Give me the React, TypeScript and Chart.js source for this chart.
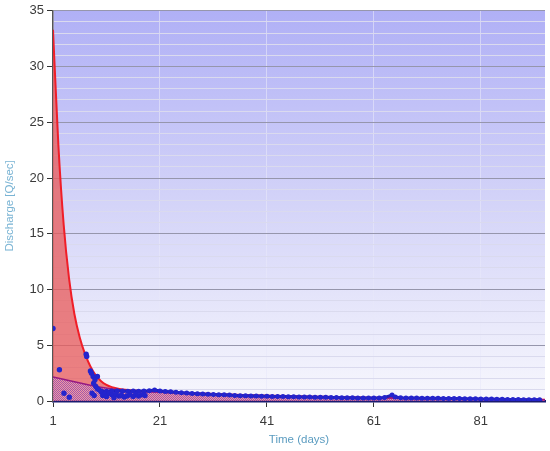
import React, { useEffect, useRef } from "react";
import { Chart, registerables } from "chart.js";

Chart.register(...registerables);

// Fitted discharge curve (red)
const redDays = [1, 2, 3, 4, 5, 6, 7, 8, 9, 10, 11, 12, 13, 14, 15, 16, 18, 20, 25, 30, 35, 40, 45, 50, 55, 60, 65, 70, 75, 80, 85, 93];
const redValues = [33.3, 23.0, 15.8, 11.0, 7.8, 5.7, 4.2, 3.1, 2.3, 1.78, 1.44, 1.24, 1.12, 1.04, 0.98, 0.94, 0.88, 0.84, 0.74, 0.64, 0.56, 0.5, 0.44, 0.39, 0.34, 0.3, 0.26, 0.23, 0.2, 0.17, 0.15, 0.12];

// Baseflow (purple)
const baseDays = [1, 5, 9, 13, 16, 20, 25, 30, 40, 50, 60, 70, 80, 93];
const baseValues = [2.15, 1.72, 1.3, 1.02, 0.9, 0.8, 0.7, 0.61, 0.47, 0.37, 0.29, 0.22, 0.16, 0.11];

// Observed discharge, early scattered readings
const obsEarlyDays = [1, 2.2, 3.05, 4.05, 7.2, 7.3, 8.0, 8.2, 8.5, 9.3, 8.85, 8.6, 9.0, 9.3, 8.3, 8.7, 9.6, 10.0, 10.3, 10.7, 11.0, 11.5, 12.0, 12.4, 12.8, 13.3, 13.8, 14.3, 14.8, 15.4, 16.0, 16.5, 17.0, 17.6, 18.2];
const obsEarlyValues = [6.5, 2.8, 0.7, 0.33, 4.2, 4.0, 2.7, 2.5, 2.2, 2.2, 1.9, 1.6, 1.3, 1.1, 0.7, 0.5, 1.0, 0.8, 0.5, 0.6, 0.4, 0.7, 0.55, 0.3, 0.6, 0.45, 0.5, 0.35, 0.45, 0.55, 0.4, 0.6, 0.45, 0.55, 0.5];

// Observed discharge, daily readings
const obsDays = [10, 11, 12, 13, 14, 15, 16, 17, 18, 19, 20, 21, 22, 23, 24, 25, 26, 27, 28, 29, 30, 31, 32, 33, 34, 35, 36, 37, 38, 39, 40, 41, 42, 43, 44, 45, 46, 47, 48, 49, 50, 51, 52, 53, 54, 55, 56, 57, 58, 59, 60, 61, 62, 63, 64.4, 65, 66, 67, 68, 69, 70, 71, 72, 73, 74, 75, 76, 77, 78, 79, 80, 81, 82, 83, 84, 85, 86, 87, 88, 89, 90, 91, 92];
const obsValues = [0.9, 0.88, 0.9, 0.92, 0.9, 0.88, 0.9, 0.88, 0.9, 0.92, 0.98, 0.9, 0.86, 0.82, 0.78, 0.75, 0.72, 0.68, 0.65, 0.62, 0.6, 0.58, 0.56, 0.55, 0.53, 0.5, 0.48, 0.47, 0.45, 0.44, 0.43, 0.42, 0.41, 0.4, 0.4, 0.39, 0.38, 0.37, 0.36, 0.35, 0.34, 0.33, 0.33, 0.32, 0.31, 0.3, 0.3, 0.29, 0.28, 0.27, 0.27, 0.26, 0.28, 0.32, 0.53, 0.35, 0.3, 0.28, 0.27, 0.26, 0.25, 0.25, 0.24, 0.24, 0.23, 0.23, 0.22, 0.22, 0.21, 0.2, 0.2, 0.19, 0.18, 0.17, 0.16, 0.15, 0.14, 0.13, 0.13, 0.12, 0.12, 0.11, 0.11];

const xTicks = [1, 21, 41, 61, 81];

const toPts = (xs: number[], ys: number[]) => xs.map((x, i) => ({ x, y: ys[i] }));

function makePattern(c1: string, c2: string): CanvasPattern | string {
  const pc = document.createElement("canvas");
  pc.width = 2;
  pc.height = 2;
  const g = pc.getContext("2d");
  if (!g) return c1;
  g.fillStyle = c1;
  g.fillRect(0, 0, 1, 1);
  g.fillRect(1, 1, 1, 1);
  g.fillStyle = c2;
  g.fillRect(1, 0, 1, 1);
  g.fillRect(0, 1, 1, 1);
  const p = g.createPattern(pc, "repeat");
  return p || c1;
}

const bgPlugin = {
  id: "plotBg",
  beforeDraw(chart: any) {
    const { ctx, chartArea } = chart;
    if (!chartArea) return;
    const grad = ctx.createLinearGradient(0, chartArea.top, 0, chartArea.bottom);
    grad.addColorStop(0, "rgb(176,176,246)");
    grad.addColorStop(0.5, "rgb(212,212,248)");
    grad.addColorStop(1, "rgb(247,247,253)");
    ctx.save();
    ctx.fillStyle = grad;
    ctx.fillRect(chartArea.left, chartArea.top, chartArea.right - chartArea.left, chartArea.bottom - chartArea.top);
    ctx.restore();
  },
};

export default function App() {
  const ref = useRef<HTMLCanvasElement>(null);
  useEffect(() => {
    document.body.style.margin = "0";
    const canvas = ref.current;
    if (!canvas) return;
    const purplePattern = makePattern("rgba(115,60,200,0.6)", "rgba(245,200,220,0.35)");
    const font = { family: "'Liberation Sans', Arial, sans-serif", size: 13 };
    const chart = new Chart(canvas, {
      type: "line",
      data: {
        datasets: [
          {
            label: "Observed",
            data: toPts(obsEarlyDays, obsEarlyValues),
            showLine: false,
            pointRadius: 2.7,
            pointBackgroundColor: "#2424cc",
            pointBorderColor: "#2424cc",
            pointBorderWidth: 0,
            order: 0,
          },
          {
            label: "Observed daily",
            data: toPts(obsDays, obsValues),
            borderColor: "#2020b8",
            borderWidth: 3,
            pointRadius: 2.5,
            pointBackgroundColor: "#2424cc",
            pointBorderColor: "#2424cc",
            pointBorderWidth: 0,
            fill: false,
            order: 1,
          },
          {
            label: "Baseflow",
            data: toPts(baseDays, baseValues),
            borderColor: "rgb(150,25,130)",
            borderWidth: 1.5,
            pointRadius: 0,
            tension: 0,
            fill: "origin",
            backgroundColor: purplePattern as any,
            order: 2,
          },
          {
            label: "Fitted",
            data: toPts(redDays, redValues),
            borderColor: "rgb(240,30,40)",
            borderWidth: 2,
            pointRadius: 0,
            cubicInterpolationMode: "monotone",
            fill: "origin",
            backgroundColor: "rgba(232,90,88,0.75)",
            order: 3,
          },
        ],
      },
      options: {
        animation: false,
        responsive: false,
        devicePixelRatio: 1,
        layout: { padding: { top: 9, right: 5, left: 0, bottom: 0 } },
        plugins: { legend: { display: false }, tooltip: { enabled: false } },
        scales: {
          x: {
            type: "linear",
            min: 1,
            max: 93,
            afterBuildTicks: (scale: any) => {
              scale.ticks = xTicks.map((v) => ({ value: v }));
            },
            afterFit: (scale: any) => {
              scale.height = 50;
            },
            ticks: { font, color: "#3a3a3a", padding: 7, autoSkip: false, maxRotation: 0 },
            grid: { color: "rgba(232,232,250,0.6)", tickColor: "#333", tickLength: 6, lineWidth: 1 },
            border: { color: "#1a1a70", width: 2.5 },
            title: { display: true, text: "Time (days)", color: "#5b9cc0", font: { family: font.family, size: 11.5 }, padding: 4 },
          },
          y: {
            type: "linear",
            min: 0,
            max: 35,
            afterFit: (scale: any) => {
              scale.width = 53;
            },
            ticks: {
              stepSize: 1,
              autoSkip: false,
              font,
              color: "#3a3a3a",
              padding: 3,
              callback: (v: any) => (Number(v) % 5 === 0 ? String(v) : ""),
            },
            grid: {
              color: (ctx: any) => (ctx.tick && ctx.tick.value % 5 === 0 ? "rgb(150,150,172)" : "rgb(218,218,238)"),
              tickColor: (ctx: any) => (ctx.tick && ctx.tick.value % 5 === 0 ? "#333" : "rgba(0,0,0,0)"),
              tickLength: 6,
              lineWidth: 1,
            },
            border: { color: "#555", width: 1.5 },
            title: { display: true, text: "Discharge [Q/sec]", color: "#7ab4d4", font: { family: font.family, size: 11.5 }, padding: 3 },
          },
        },
      },
      plugins: [bgPlugin],
    });
    return () => chart.destroy();
  }, []);
  return (
    <div style={{ width: 550, height: 451 }}>
      <canvas ref={ref} width={550} height={451} />
    </div>
  );
}
